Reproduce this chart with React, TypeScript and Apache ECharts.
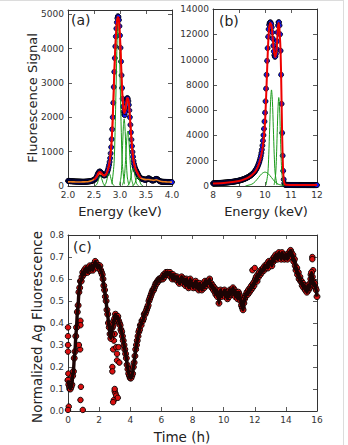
import React, { useEffect, useRef } from "react";
import * as echarts from "echarts";

// ---- Panel (a): Ag L-line spectrum, 2.00–4.00 keV on a 0.01 keV grid ----
const spectrumAStart = 2.0;
const spectrumAStep = 0.01;
const spectrumACounts = [
  150, 145, 142, 148, 140, 138, 143, 136, 139, 134,
  137, 132, 135, 130, 133, 128, 131, 127, 130, 126,
  129, 125, 128, 124, 127, 123, 126, 122, 125, 121,
  124, 122, 126, 123, 127, 125, 129, 127, 132, 130,
  135, 134, 139, 138, 144, 146, 152, 155, 162, 168,
  176, 186, 198, 214, 234, 262, 298, 338, 372, 398,
  414, 422, 418, 404, 384, 362, 342, 326, 316, 310,
  308, 312, 322, 338, 360, 392, 432, 480, 540, 612,
  700, 810, 950, 1130, 1360, 1650, 2000, 2420, 2880, 3320,
  3720, 4060, 4350, 4580, 4760, 4880, 4940, 4920, 4830, 4650,
  4380, 4020, 3620, 3220, 2850, 2540, 2310, 2160, 2080, 2060,
  2150, 2300, 2440, 2530, 2560, 2540, 2470, 2360, 2200, 2000,
  1780, 1560, 1350, 1160, 990, 850, 730, 640, 570, 520,
  480, 450, 420, 390, 360, 330, 300, 275, 255, 240,
  228, 218, 210, 204, 200, 196, 192, 188, 184, 180,
  182, 190, 200, 210, 218, 222, 220, 212, 200, 188,
  176, 166, 160, 158, 160, 166, 176, 188, 198, 204,
  206, 204, 196, 184, 170, 156, 146, 138, 132, 128,
  126, 124, 123, 122, 121, 120, 120, 119, 119, 118,
  118, 117, 117, 116, 116, 115, 115, 114, 114, 113, 113,
];

// Fitted envelope (red) over the peak region
const fitA = [
  [2.5, 190], [2.52, 215], [2.54, 255], [2.56, 300], [2.58, 370], [2.6, 405],
  [2.62, 410], [2.64, 385], [2.66, 345], [2.68, 318], [2.7, 310], [2.72, 322],
  [2.74, 362], [2.76, 435], [2.78, 545], [2.8, 705], [2.82, 950], [2.84, 1350],
  [2.86, 1980], [2.88, 2850], [2.9, 3700], [2.92, 4330], [2.94, 4750], [2.96, 4920],
  [2.98, 4820], [3.0, 4360], [3.02, 3600], [3.04, 2840], [3.06, 2320], [3.08, 2120],
  [3.1, 2180], [3.12, 2420], [3.14, 2560], [3.16, 2520], [3.18, 2250], [3.2, 1800],
  [3.22, 1360], [3.24, 1000], [3.26, 740], [3.28, 580], [3.3, 490], [3.32, 430],
  [3.34, 370], [3.36, 310], [3.38, 265], [3.4, 235],
];

// Sum of components (orange) over the full window
const totalA = [
  [2.0, 120], [2.05, 122], [2.1, 120], [2.15, 118], [2.2, 118], [2.25, 118],
  [2.3, 120], [2.35, 122], [2.4, 130], [2.45, 150], [2.5, 190], [2.55, 260],
  [2.6, 360], [2.65, 340], [2.7, 300], [2.75, 400], [2.8, 700], [2.85, 1500],
  [2.9, 3600], [2.95, 4900], [3.0, 4300], [3.05, 2500], [3.1, 2200], [3.15, 2550],
  [3.2, 1800], [3.25, 850], [3.3, 500], [3.35, 330], [3.4, 230], [3.45, 200],
  [3.5, 185], [3.55, 190], [3.6, 175], [3.65, 165], [3.7, 180], [3.75, 150],
  [3.8, 130], [3.85, 122], [3.9, 118], [3.95, 115], [4.0, 113],
];

// Individual line components (green)
const peaksA = [
  [[2.515, 3], [2.55, 39], [2.5675, 94], [2.585, 176], [2.6025, 256], [2.62, 290], [2.6375, 256], [2.655, 176], [2.6725, 94], [2.69, 39], [2.725, 3]],
  [[2.685, 4], [2.72, 50], [2.7375, 120], [2.755, 224], [2.7725, 327], [2.79, 370], [2.8075, 327], [2.825, 224], [2.8425, 120], [2.86, 50], [2.895, 4]],
  [[2.845, 53], [2.885, 649], [2.905, 1559], [2.925, 2911], [2.945, 4236], [2.965, 4800], [2.985, 4236], [3.005, 2911], [3.025, 1559], [3.045, 649], [3.085, 53]],
  [[2.99, 22], [3.02, 264], [3.035, 633], [3.05, 1183], [3.065, 1721], [3.08, 1950], [3.095, 1721], [3.11, 1183], [3.125, 633], [3.14, 264], [3.17, 22]],
  [[3.045, 18], [3.08, 216], [3.0975, 520], [3.115, 970], [3.1325, 1412], [3.15, 1600], [3.1675, 1412], [3.185, 970], [3.2025, 520], [3.22, 216], [3.255, 18]],
  [[3.145, 6], [3.18, 70], [3.1975, 169], [3.215, 315], [3.2325, 459], [3.25, 520], [3.2675, 459], [3.285, 315], [3.3025, 169], [3.32, 70], [3.355, 6]],
  [[3.235, 3], [3.27, 35], [3.2875, 84], [3.305, 158], [3.3225, 229], [3.34, 260], [3.3575, 229], [3.375, 158], [3.3925, 84], [3.41, 35], [3.445, 3]],
];

// ---- Panel (b): Ag K-line spectrum, 8.00–12.00 keV on a 0.02 keV grid ----
const spectrumBStart = 8.0;
const spectrumBStep = 0.02;
const spectrumBCounts = [
  210, 212, 214, 216, 218, 220, 222, 224, 226, 228,
  230, 232, 235, 238, 241, 244, 247, 250, 253, 256,
  259, 262, 265, 268, 271, 274, 278, 282, 286, 290,
  294, 298, 303, 308, 313, 318, 323, 328, 334, 340,
  346, 353, 360, 367, 374, 382, 390, 399, 408, 418,
  428, 439, 450, 462, 474, 487, 500, 514, 529, 544,
  560, 577, 594, 612, 631, 651, 672, 694, 717, 741,
  766, 793, 822, 853, 886, 921, 958, 997, 1040, 1086,
  1135, 1190, 1250, 1318, 1394, 1478, 1570, 1670, 1780, 1900,
  2040, 2200, 2390, 2610, 2880, 3200, 3580, 4020, 4520, 5100,
  5800, 6700, 7700, 8800, 9900, 10900, 11800, 12400, 12750, 12900,
  12950, 12920, 12800, 12550, 12150, 11650, 11100, 10650, 10350, 10220,
  10250, 10450, 10850, 11450, 12150, 12700, 12950, 12950, 12700, 12000,
  10700, 8800, 6500, 4200, 2400, 1200, 520, 220, 120, 95,
  88, 85, 84, 83, 82, 82, 81, 81, 80, 80,
  80, 79, 79, 79, 78, 78, 78, 78, 77, 77,
  77, 77, 77, 76, 76, 76, 76, 76, 75, 75,
  75, 75, 75, 75, 74, 74, 74, 74, 74, 74,
  73, 73, 73, 73, 73, 73, 72, 72, 72, 72,
  72, 72, 72, 71, 71, 71, 71, 71, 71, 70,
  70,
];

const fitB = [
  [8.0, 200], [8.5, 260], [9.0, 400], [9.2, 520], [9.4, 720], [9.6, 1080],
  [9.7, 1400], [9.8, 1950], [9.9, 2900], [9.95, 3700], [10.0, 5000], [10.05, 7400],
  [10.1, 10200], [10.15, 12300], [10.2, 12900], [10.25, 12700], [10.3, 11600],
  [10.35, 10600], [10.4, 10200], [10.45, 10900], [10.5, 12600], [10.53, 12900],
  [10.56, 12300], [10.6, 10600], [10.63, 7600], [10.66, 4000], [10.69, 1600],
  [10.72, 500], [10.76, 150], [10.8, 90], [11.0, 80], [11.5, 75], [12.0, 70],
];

const peaksB = [
  [[9.25, 12], [9.5, 149], [9.625, 357], [9.75, 667], [9.875, 971], [10.0, 1100], [10.125, 971], [10.25, 667], [10.375, 357], [10.5, 149], [10.75, 12]],
  [[10.04, 84], [10.11, 1028], [10.145, 2468], [10.18, 4609], [10.215, 6707], [10.25, 7600], [10.285, 6707], [10.32, 4609], [10.355, 2468], [10.39, 1028], [10.46, 84]],
  [[10.35, 78], [10.41, 947], [10.44, 2273], [10.47, 4246], [10.5, 6178], [10.53, 7000], [10.56, 6178], [10.59, 4246], [10.62, 2273], [10.65, 947], [10.71, 78]],
];

// ---- Panel (c): normalized Ag fluorescence vs time, 0–16 h every 0.05 h ----
const timeStep = 0.05;
const agSignal = [
  0.14, 0.12, 0.11, 0.10, 0.11, 0.12, 0.16, 0.18, 0.24, 0.27, 0.34, 0.38, 0.45, 0.48, 0.54, 0.56, 0.59, 0.59, 0.61, 0.63,
  0.62, 0.64, 0.63, 0.65, 0.64, 0.63, 0.65, 0.64, 0.66, 0.64, 0.65, 0.66, 0.64, 0.66, 0.67, 0.68, 0.66, 0.67, 0.65, 0.66,
  0.66, 0.66, 0.64, 0.63, 0.62, 0.60, 0.57, 0.55, 0.52, 0.50, 0.46, 0.44, 0.40, 0.38, 0.35, 0.33, 0.35, 0.38, 0.39, 0.41,
  0.42, 0.44, 0.43, 0.42, 0.43, 0.41, 0.40, 0.39, 0.37, 0.36, 0.34, 0.32, 0.30, 0.28, 0.26, 0.24, 0.21, 0.19, 0.17, 0.16,
  0.15, 0.15, 0.16, 0.17, 0.20, 0.22, 0.25, 0.28, 0.30, 0.32, 0.34, 0.36, 0.37, 0.39, 0.39, 0.41, 0.41, 0.42, 0.44, 0.44,
  0.45, 0.46, 0.47, 0.48, 0.50, 0.51, 0.52, 0.53, 0.54, 0.55, 0.55, 0.56, 0.57, 0.58, 0.58, 0.59, 0.59, 0.60, 0.60, 0.60,
  0.60, 0.61, 0.60, 0.62, 0.61, 0.62, 0.63, 0.62, 0.63, 0.62, 0.62, 0.63, 0.61, 0.62, 0.60, 0.62, 0.61, 0.60, 0.61, 0.60,
  0.61, 0.59, 0.60, 0.58, 0.60, 0.59, 0.61, 0.59, 0.58, 0.60, 0.59, 0.57, 0.60, 0.58, 0.59, 0.56, 0.58, 0.60, 0.57, 0.58,
  0.58, 0.56, 0.58, 0.57, 0.59, 0.56, 0.58, 0.57, 0.55, 0.58, 0.56, 0.57, 0.55, 0.57, 0.58, 0.56, 0.59, 0.57, 0.58, 0.59,
  0.59, 0.58, 0.60, 0.57, 0.58, 0.56, 0.57, 0.55, 0.56, 0.54, 0.53, 0.55, 0.52, 0.54, 0.49, 0.53, 0.55, 0.52, 0.54, 0.53,
  0.53, 0.55, 0.52, 0.54, 0.53, 0.51, 0.54, 0.52, 0.55, 0.53, 0.55, 0.54, 0.56, 0.53, 0.55, 0.52, 0.54, 0.53, 0.51, 0.54,
  0.53, 0.52, 0.50, 0.48, 0.47, 0.46, 0.49, 0.51, 0.52, 0.53, 0.54, 0.53, 0.55, 0.54, 0.56, 0.55, 0.57, 0.56, 0.58, 0.57,
  0.59, 0.60, 0.61, 0.59, 0.62, 0.61, 0.63, 0.62, 0.64, 0.63, 0.64, 0.65, 0.64, 0.66, 0.65, 0.66, 0.67, 0.65, 0.68, 0.67,
  0.67, 0.68, 0.66, 0.69, 0.68, 0.70, 0.69, 0.71, 0.70, 0.69, 0.71, 0.72, 0.70, 0.71, 0.69, 0.72, 0.70, 0.71, 0.69, 0.70,
  0.70, 0.71, 0.69, 0.71, 0.72, 0.71, 0.73, 0.72, 0.70, 0.71, 0.68, 0.69, 0.66, 0.64, 0.65, 0.62, 0.63, 0.60, 0.61, 0.59,
  0.59, 0.57, 0.58, 0.56, 0.57, 0.55, 0.56, 0.54, 0.57, 0.55, 0.56, 0.58, 0.60, 0.63, 0.61, 0.59, 0.57, 0.58, 0.56, 0.55,
  0.52,
];

// Isolated readings away from the main trace
const strayTimes = [
  0.0, 0.0, 0.0, 0.0, 0.02, 0.05, 0.0, 0.1, 0.0,
  0.78, 0.8, 0.8, 0.83, 0.8, 0.95, 0.7,
  2.8, 2.85, 2.85, 2.9, 2.95, 3.0, 3.1, 3.15, 3.0, 2.95, 2.9, 3.05, 3.1, 3.2, 3.0, 3.15, 3.25, 3.3,
  15.7, 15.7, 15.75, 15.6, 11.85, 12.0,
];
const strayValues = [
  0.38, 0.34, 0.3, 0.27, 0.17, 0.02, 0.005, 0.1, 0.14,
  0.28, 0.41, 0.39, 0.11, 0.05, 0.005, 0.3,
  0.33, 0.2, 0.18, 0.28, 0.32, 0.35, 0.29, 0.26, 0.09, 0.05, 0.04, 0.08, 0.07, 0.06, 0.1, 0.23, 0.29, 0.22,
  0.7, 0.69, 0.64, 0.62, 0.64, 0.65,
];

const FONT = "DejaVu Sans";
const FRAME = "#333";
const TEXT = "#333";

const round = (v: number, d: number) => Number(v.toFixed(d));

const spectrumA = spectrumACounts.map((c, i) => [round(spectrumAStart + i * spectrumAStep, 2), c]);
const spectrumB = spectrumBCounts.map((c, i) => [round(spectrumBStart + i * spectrumBStep, 2), c]);
const agTrace = agSignal.map((v, i) => [round(i * timeStep, 2), v]);
const strays = strayTimes.map((t, i) => [t, strayValues[i]]);

type Fmt = (v: number) => string;

function xAxes(gridIndex: number, min: number, max: number, interval: number, fmt: Fmt) {
  const base = {
    type: "value" as const,
    gridIndex,
    min,
    max,
    interval,
    splitLine: { show: false },
    axisLine: { show: true, onZero: false, lineStyle: { color: FRAME, width: 1 } },
    axisTick: { show: true, inside: true, length: 4, lineStyle: { color: FRAME, width: 0.8 } },
  };
  return [
    {
      ...base,
      position: "bottom",
      axisLabel: { fontFamily: FONT, fontSize: 9, color: TEXT, margin: 4, formatter: fmt },
    },
    { ...base, position: "top", axisLabel: { show: false } },
  ];
}

function yAxes(gridIndex: number, min: number, max: number, interval: number, fmt: Fmt) {
  const base = {
    type: "value" as const,
    gridIndex,
    min,
    max,
    interval,
    splitLine: { show: false },
    axisLine: { show: true, onZero: false, lineStyle: { color: FRAME, width: 1 } },
    axisTick: { show: true, inside: true, length: 4, lineStyle: { color: FRAME, width: 0.8 } },
  };
  return [
    {
      ...base,
      position: "left",
      axisLabel: { fontFamily: FONT, fontSize: 9, color: TEXT, margin: 4, formatter: fmt },
    },
    { ...base, position: "right", axisLabel: { show: false } },
  ];
}

const dataDot = (color: string, size: number, edge: number) => ({
  symbol: "circle",
  symbolSize: size,
  itemStyle: { color, borderColor: "#000", borderWidth: edge, opacity: 1 },
  silent: true,
});

const curve = (data: number[][], color: string, width: number, axis: number, smooth = 0.3) => ({
  type: "line" as const,
  xAxisIndex: axis,
  yAxisIndex: axis,
  data,
  symbol: "none",
  showSymbol: false,
  smooth,
  silent: true,
  lineStyle: { color, width },
});

function buildOption() {
  const series: any[] = [];

  // (a)
  series.push({ type: "scatter", xAxisIndex: 0, yAxisIndex: 0, data: spectrumA, ...dataDot("#1414e6", 5, 0.8) });
  peaksA.forEach((p) => series.push(curve(p, "#1a9a1a", 1, 0)));
  series.push(curve(totalA, "#f08020", 1.6, 0));
  series.push(curve(fitA, "#ee0000", 2, 0));

  // (b)
  series.push({ type: "scatter", xAxisIndex: 2, yAxisIndex: 2, data: spectrumB, ...dataDot("#1414e6", 5, 0.8) });
  peaksB.forEach((p) => series.push(curve(p, "#1a9a1a", 1, 2)));
  series.push(curve(fitB, "#ee0000", 2, 2));

  // (c): individual readings, with the dense run of points forming a dark core
  series.push({ type: "scatter", xAxisIndex: 4, yAxisIndex: 4, data: strays, ...dataDot("#d81010", 5.5, 0.9) });
  series.push({ type: "scatter", xAxisIndex: 4, yAxisIndex: 4, data: agTrace, ...dataDot("#d81010", 6, 0.9) });
  series.push(curve(agTrace, "#1c0404", 3.4, 4, 0.15));

  const fmt1: Fmt = (v) => v.toFixed(1);
  const fmtInt: Fmt = (v) => String(Math.round(v));
  const fmtA: Fmt = (v) => (Math.abs(v % 1000) < 1e-6 ? String(v) : "");

  const titleStyle = { fontFamily: FONT, fontSize: 13, fill: "#222" };

  return {
    animation: false,
    backgroundColor: "#ffffff",
    grid: [
      { left: 68, top: 10, width: 104, height: 176 },
      { left: 213, top: 9, width: 104, height: 177 },
      { left: 68, top: 235, width: 249, height: 176 },
    ],
    xAxis: [
      ...xAxes(0, 2, 4, 0.5, fmt1),
      ...xAxes(1, 8, 12, 1, fmtInt),
      ...xAxes(2, 0, 16, 2, fmtInt),
    ],
    yAxis: [
      ...yAxes(0, 0, 5120, 1000, fmtA),
      ...yAxes(1, 0, 14000, 2000, fmtInt),
      ...yAxes(2, 0, 0.8, 0.1, fmt1),
    ],
    series,
    graphic: [
      { type: "line", shape: { x1: 0, y1: 0.5, x2: 344, y2: 0.5 }, style: { stroke: "#dcdcdc", lineWidth: 1 } },
      { type: "line", shape: { x1: 343.5, y1: 0, x2: 343.5, y2: 445 }, style: { stroke: "#dcdcdc", lineWidth: 1 } },
      { type: "text", x: 71, y: 20, style: { text: "(a)", fontFamily: FONT, fontSize: 14, fill: "#222", verticalAlign: "middle" } },
      { type: "text", x: 219, y: 20.5, style: { text: "(b)", fontFamily: FONT, fontSize: 14, fill: "#222", verticalAlign: "middle" } },
      { type: "text", x: 73, y: 247, style: { text: "(c)", fontFamily: FONT, fontSize: 14, fill: "#222", verticalAlign: "middle" } },
      { type: "text", x: 120, y: 211, style: { ...titleStyle, text: "Energy (keV)", align: "center", verticalAlign: "middle" } },
      { type: "text", x: 266, y: 211, style: { ...titleStyle, text: "Energy (keV)", align: "center", verticalAlign: "middle" } },
      { type: "text", x: 182, y: 437, style: { ...titleStyle, fontSize: 13.5, text: "Time (h)", align: "center", verticalAlign: "middle" } },
      { type: "text", x: 32, y: 98, rotation: Math.PI / 2, style: { ...titleStyle, text: "Fluorescence Signal", align: "center", verticalAlign: "middle" } },
      { type: "text", x: 37, y: 327, rotation: Math.PI / 2, style: { ...titleStyle, fontSize: 13.5, text: "Normalized Ag Fluorescence", align: "center", verticalAlign: "middle" } },
    ],
  };
}

export default function App() {
  const ref = useRef<HTMLDivElement>(null);
  useEffect(() => {
    document.body.style.margin = "0";
    const chart = echarts.init(ref.current!, undefined, { renderer: "svg" });
    chart.setOption(buildOption() as any);
    return () => chart.dispose();
  }, []);
  return <div ref={ref} style={{ width: 348, height: 445, background: "#fff" }} />;
}
